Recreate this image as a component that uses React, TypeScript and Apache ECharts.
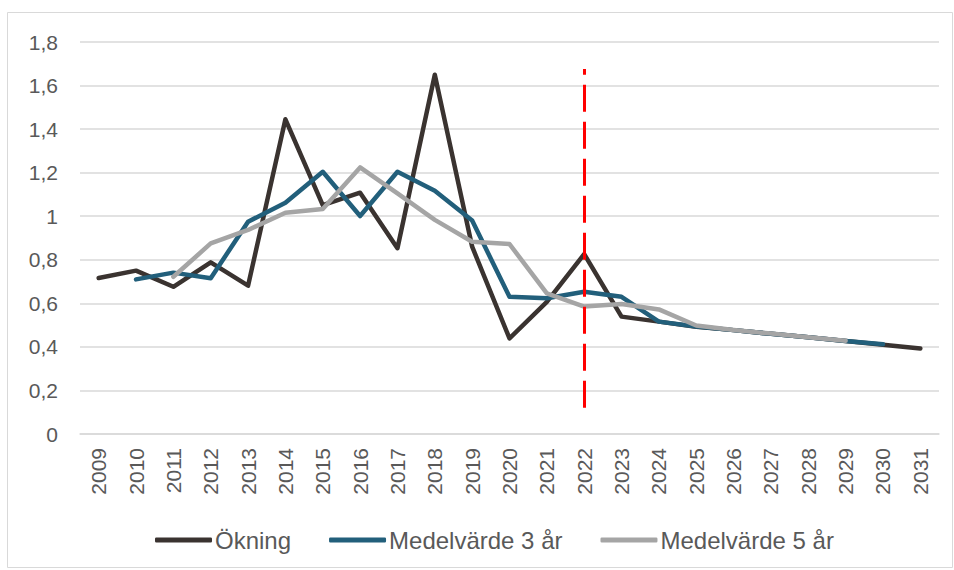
import React, { useEffect, useRef } from "react";
import * as echarts from "echarts";

const years = ["2009","2010","2011","2012","2013","2014","2015","2016","2017","2018","2019","2020","2021","2022","2023","2024","2025","2026","2027","2028","2029","2030","2031"];

const okning = [0.716, 0.75, 0.676, 0.788, 0.681, 1.445, 1.051, 1.108, 0.853, 1.65, 0.86, 0.439, 0.607, 0.826, 0.539, 0.516, 0.492, 0.477, 0.46, 0.444, 0.427, 0.41, 0.393];
const medel3 = [null, 0.71, 0.741, 0.715, 0.975, 1.062, 1.204, 1.001, 1.204, 1.117, 0.98, 0.63, 0.623, 0.653, 0.63, 0.516, 0.494, 0.477, 0.46, 0.444, 0.427, 0.412, null];
const medel5 = [null, null, 0.722, 0.875, 0.937, 1.016, 1.033, 1.224, 1.105, 0.983, 0.883, 0.872, 0.646, 0.585, 0.597, 0.572, 0.498, 0.478, 0.461, 0.444, 0.428, null, null];

const yTicks = [0, 0.2, 0.4, 0.6, 0.8, 1, 1.2, 1.4, 1.6, 1.8];
const markYear = "2022";
const markRange = [0.12, 1.676];

const FONT = "'Liberation Sans', Arial, sans-serif";

export default function App() {
  const ref = useRef<HTMLDivElement>(null);
  useEffect(() => {
    if (!ref.current) return;
    const chart = echarts.init(ref.current, undefined, { renderer: "svg" });
    const lineStyle = (color: string) => ({ color, width: 4.5, cap: "round" as const, join: "round" as const });
    chart.setOption({
      animation: false,
      backgroundColor: "#ffffff",
      textStyle: { fontFamily: FONT },
      graphic: [
        {
          type: "rect",
          shape: { x: 7.5, y: 12.5, width: 945, height: 555 },
          style: { fill: "none", stroke: "#d9d9d9", lineWidth: 1 },
          silent: true,
          z: -1,
        },
      ],
      grid: { left: 80, right: 15, top: 42, bottom: 136, containLabel: false },
      legend: {
        left: 155,
        top: 528,
        padding: 0,
        icon: "roundRect",
        itemWidth: 57,
        itemHeight: 5,
        itemGap: 38,
        textStyle: { fontSize: 24, color: "#595959", fontFamily: FONT, padding: [0, 0, 0, -2] },
        data: ["Ökning", "Medelvärde 3 år", "Medelvärde 5 år"],
      },
      xAxis: {
        type: "category",
        data: years,
        boundaryGap: true,
        axisLine: { show: true, lineStyle: { color: "#d9d9d9", width: 1.5 } },
        axisTick: { show: false },
        axisLabel: { rotate: 90, fontSize: 21, color: "#595959", margin: 14, interval: 0, fontFamily: FONT },
        splitLine: { show: false },
      },
      yAxis: {
        type: "value",
        min: 0,
        max: 1.8,
        interval: 0.2,
        axisLine: { show: false },
        axisTick: { show: false },
        axisLabel: {
          fontSize: 21,
          color: "#595959",
          margin: 22,
          fontFamily: FONT,
          formatter: (v: number) => {
            const t = yTicks.find((x) => Math.abs(x - v) < 1e-6);
            const val = t !== undefined ? t : v;
            return String(Math.round(val * 10) / 10).replace(".", ",");
          },
        },
        splitLine: { lineStyle: { color: "#d9d9d9", width: 1.5 } },
      },
      series: [
        {
          name: "Ökning",
          type: "line",
          data: okning,
          showSymbol: false,
          symbol: "none",
          color: "#3a3330",
          lineStyle: lineStyle("#3a3330"),
          z: 2,
          markLine: {
            silent: true,
            symbol: ["none", "none"],
            label: { show: false },
            lineStyle: { color: "#ff0000", width: 3, type: [27, 10] as any },
            data: [[{ coord: [markYear, markRange[0]] }, { coord: [markYear, markRange[1]] }]],
          },
        },
        {
          name: "Medelvärde 3 år",
          type: "line",
          data: medel3,
          showSymbol: false,
          symbol: "none",
          color: "#225f7b",
          lineStyle: lineStyle("#225f7b"),
          z: 3,
        },
        {
          name: "Medelvärde 5 år",
          type: "line",
          data: medel5,
          showSymbol: false,
          symbol: "none",
          color: "#a5a5a5",
          lineStyle: lineStyle("#a5a5a5"),
          z: 4,
        },
      ],
    });
    return () => chart.dispose();
  }, []);
  return (
    <div
      ref={ref}
      style={{ position: "fixed", left: 0, top: 0, width: 954, height: 570, background: "#fff" }}
    />
  );
}
